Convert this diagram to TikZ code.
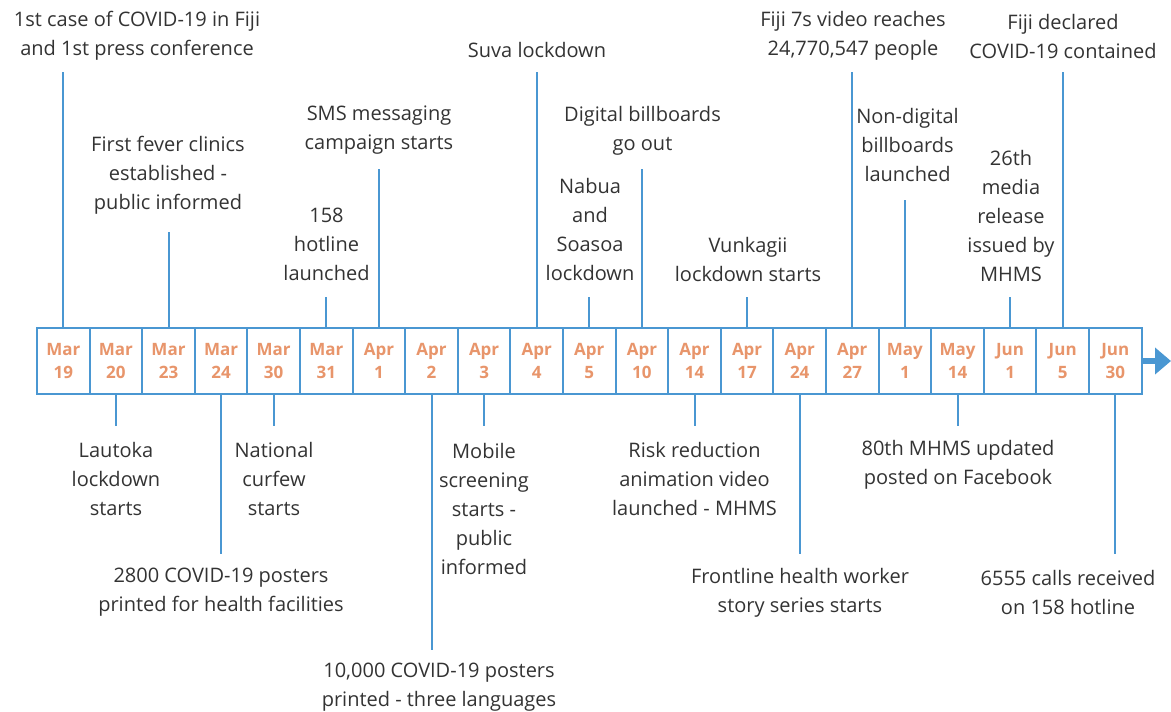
\documentclass[tikz,border=0pt]{standalone}
\usepackage{fontspec}
\setmainfont{Open Sans}
\usepackage{tikz}
\usetikzlibrary{arrows.meta}
\definecolor{lineblue}{RGB}{74,151,210}
\definecolor{dateorange}{RGB}{232,149,107}
\definecolor{evgray}{RGB}{51,51,51}
\tikzset{
  datebox/.style={draw=lineblue, line width=2pt, fill=white,
    minimum width=52.6pt, minimum height=66pt,
    inner sep=0pt, outer sep=0pt, align=center,
    text=dateorange, font=\bfseries\fontsize{17}{23}\selectfont},
  evtext/.style={align=center, inner sep=0pt, text=evgray,
    font=\fontsize{20}{29}\selectfont},
  stem/.style={draw=lineblue, line width=2pt},
  timearr/.style={-{Triangle[length=16pt, width=26pt]}, draw=lineblue,
    fill=lineblue, line width=6pt},
}

\begin{document}
\begin{tikzpicture}[x=1pt, y=-1pt]
  \useasboundingbox (0,0) rectangle (1171,712);

  % Date boxes along the time line
  \foreach \m/\d [count=\i] in {Mar/19, Mar/20, Mar/23, Mar/24, Mar/30,
      Mar/31, Apr/1, Apr/2, Apr/3, Apr/4, Apr/5, Apr/10, Apr/14, Apr/17,
      Apr/24, Apr/27, May/1, May/14, Jun/1, Jun/5, Jun/30} {
    \node[datebox] (d\i) at ({37+52.6*(\i-0.5)}, 361) {\m\\\d};
  }

  % Arrow at the end
  \coordinate (tend) at (1171,361);
  \draw[timearr] (d21.east) -- (tend);

  % Events above the line
  \node[evtext] (e1) at (137,36) {1st case of COVID-19 in Fiji\\and 1st press conference};
  \node[evtext] (e3) at (168,175) {First fever clinics\\established -\\public informed};
  \node[evtext] (e6) at (326.5,244) {158\\hotline\\launched};
  \node[evtext] (e7) at (379,130.5) {SMS messaging\\campaign starts};
  \node[evtext] (e10) at (537,50) {Suva lockdown};
  \node[evtext] (e11) at (590,229.5) {Nabua\\and\\Soasoa\\lockdown};
  \node[evtext] (e12) at (642.5,130.5) {Digital billboards\\go out};
  \node[evtext] (e14) at (748,259) {Vunkagii\\lockdown starts};
  \node[evtext] (e16) at (853,36) {Fiji 7s video reaches\\24,770,547 people};
  \node[evtext] (e17) at (907.5,145) {Non-digital\\billboards\\launched};
  \node[evtext] (e19) at (1011,216) {26th\\media\\release\\issued by\\MHMS};
  \node[evtext] (e20) at (1063,36) {Fiji declared\\COVID-19 contained};

  % Events below the line
  \node[evtext] (e2) at (116,479) {Lautoka\\lockdown\\starts};
  \node[evtext] (e4) at (221,592.5) {2800 COVID-19 posters\\printed for health facilities};
  \node[evtext] (e5) at (274,479) {National\\curfew\\starts};
  \node[evtext] (e8) at (439,687.5) {10,000 COVID-19 posters\\printed - three languages};
  \node[evtext] (e9) at (484,508.5) {Mobile\\screening\\starts -\\public\\informed};
  \node[evtext] (e13) at (694.5,479) {Risk reduction\\animation video\\launched - MHMS};
  \node[evtext] (e15) at (800,592.5) {Frontline health worker\\story series starts};
  \node[evtext] (e18) at (958,464.5) {80th MHMS updated\\posted on Facebook};
  \node[evtext] (e21) at (1068,592.5) {6555 calls received\\on 158 hotline};

  % Stems
  \foreach \i/\y in {1/72, 3/232, 6/297, 7/169, 10/72, 11/297, 12/169,
      14/297, 16/72, 17/200, 19/297, 20/72} {
    \path (d\i.north) ++(0,\y-328) coordinate (s\i);
    \draw[stem] (d\i.north) -- (s\i);
  }
  \foreach \i/\y in {2/426, 4/554, 5/426, 8/650, 9/426, 13/426, 15/554,
      18/426, 21/554} {
    \path (d\i.south) ++(0,\y-394) coordinate (s\i);
    \draw[stem] (d\i.south) -- (s\i);
  }
\end{tikzpicture}
\end{document}
